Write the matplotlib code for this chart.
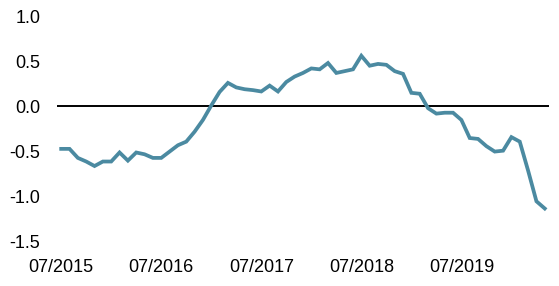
import matplotlib
matplotlib.use("Agg")
import matplotlib.pyplot as plt

# monthly values, 07/2015 .. 05/2020
values = [
    -0.47, -0.47, -0.57, -0.61, -0.66, -0.61, -0.61, -0.51, -0.60, -0.51,
    -0.53, -0.57, -0.57, -0.50, -0.43, -0.39, -0.28, -0.15, 0.01, 0.16,
    0.26, 0.21, 0.19, 0.18, 0.165, 0.23, 0.165, 0.27, 0.33, 0.37,
    0.42, 0.41, 0.48, 0.37, 0.39, 0.41, 0.56, 0.45, 0.47, 0.46,
    0.39, 0.36, 0.15, 0.14, -0.02, -0.08, -0.07, -0.07, -0.15, -0.35,
    -0.36, -0.44, -0.50, -0.49, -0.34, -0.39, -0.71, -1.05, -1.13,
]
tick_pos = [0, 12, 24, 36, 48]
tick_labels = ["07/2015", "07/2016", "07/2017", "07/2018", "07/2019"]
y_ticks = [1.0, 0.5, 0.0, -0.5, -1.0, -1.5]

plt.rcParams["font.family"] = ["Liberation Sans", "DejaVu Sans"]

fig = plt.figure(figsize=(5.59, 2.86), dpi=100)
ax = fig.add_axes([0.102, 0.154, 0.880, 0.790])

months = list(range(len(values)))
ax.axhline(0, color="black", lw=1.4, zorder=1)
ax.plot(months, values, color="#4b8aa1", lw=2.7, solid_joinstyle="miter", zorder=2)

ax.set_xlim(-0.5, len(values) - 0.5)
ax.set_ylim(-1.5, 1.0)
ax.set_xticks(tick_pos)
ax.set_xticklabels(tick_labels)
ax.set_yticks(y_ticks)
ax.set_yticklabels([f"{v:.1f}" for v in y_ticks])
ax.tick_params(length=0, labelsize=13, colors="black")
ax.tick_params(axis="y", pad=12)
ax.tick_params(axis="x", pad=12)
for s in ax.spines.values():
    s.set_visible(False)

fig.savefig("out.png", dpi=100)
